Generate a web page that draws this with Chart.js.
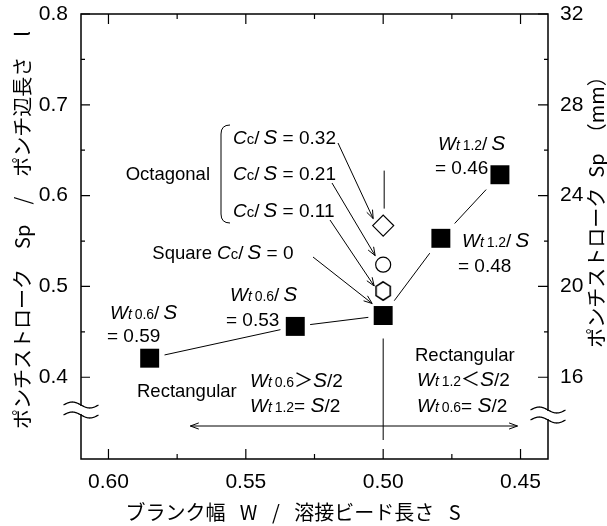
<!DOCTYPE html>
<html>
<head>
<meta charset="utf-8">
<script src="https://cdn.jsdelivr.net/npm/chart.js@4/dist/chart.umd.min.js"></script>
<style>
  html, body { margin: 0; padding: 0; background: #fff; }
  #wrap { width: 607px; height: 526px; }
</style>
</head>
<body>
<div id="wrap"><canvas id="c" width="607" height="526"></canvas></div>
<script>
// Blank width / weld bead length (W/S) and normalised punch stroke (Sp/l)
const blankRatio  = [0.585, 0.532, 0.500, 0.479, 0.4575];
const strokeRatio = [0.421, 0.456, 0.468, 0.553, 0.623];

// Octagonal blanks (all at W/S = 0.50): Cc/S = 0.32, 0.21, 0.11
const octagonRatio  = [0.50, 0.50, 0.50];
const octagonStroke = [0.567, 0.524, 0.495];

// Axis ranges and ticks
const xRange = [0.44, 0.61];
const yRange = [0.31, 0.80];
const punchSide = 40;              // mm, converts Sp/l to Sp
const xTickValues  = [0.60, 0.55, 0.50, 0.45];
const xTickLabels  = ['0.60', '0.55', '0.50', '0.45'];
const xMinorValues = [0.575, 0.525, 0.475];
const yTickValues  = [0.4, 0.5, 0.6, 0.7, 0.8];
const yTickLabels  = ['0.4', '0.5', '0.6', '0.7', '0.8'];
const yMinorValues = [0.45, 0.55, 0.65, 0.75];
const mmTickValues  = [16, 20, 24, 28, 32];
const mmTickLabels  = ['16', '20', '24', '28', '32'];
const mmMinorValues = [18, 22, 26, 30];

const LAT = '"Liberation Sans", Arial, sans-serif';
const CJK = '"Noto Sans CJK JP", "Noto Sans", sans-serif';

const mainPts = blankRatio.map((x, i) => ({ x, y: strokeRatio[i] }));
const octPts = octagonRatio.map((x, i) => ({ x, y: octagonStroke[i] }));

// open hexagon marker
const hex = document.createElement('canvas');
hex.width = 20; hex.height = 22;
(function () {
  const g = hex.getContext('2d');
  g.beginPath();
  for (let k = 0; k < 6; k++) {
    const a = -Math.PI / 2 + k * Math.PI / 3;
    const px = 10 + 8.2 * Math.cos(a), py = 11 + 9.2 * Math.sin(a);
    k ? g.lineTo(px, py) : g.moveTo(px, py);
  }
  g.closePath();
  g.fillStyle = '#fff'; g.fill();
  g.lineWidth = 1.6; g.strokeStyle = '#000'; g.stroke();
})();

// text made of runs: [text, size, italic, family]
function rich(ctx, x, yMid, parts, align) {
  let w = 0;
  for (const p of parts) {
    ctx.font = (p[2] ? 'italic ' : '') + p[1] + 'px ' + (p[3] || LAT);
    w += ctx.measureText(p[0]).width;
  }
  let cx = align === 'right' ? x - w : x;
  const base = yMid + 7;
  ctx.textBaseline = 'alphabetic';
  ctx.textAlign = 'left';
  for (const p of parts) {
    ctx.font = (p[2] ? 'italic ' : '') + p[1] + 'px ' + (p[3] || LAT);
    ctx.fillText(p[0], cx, base);
    cx += ctx.measureText(p[0]).width;
  }
}
const Wt = n => [['W', 19, 1], ['t', 14, 1], ['\u2009' + n, 14, 0]];
const Cc = [['C', 19, 1], ['c', 15, 0]];
const overS = [['/', 19, 0], ['\u2009', 19, 0], ['S', 21, 1]];
const S2 = [['S', 21, 1], ['/', 19, 0], ['2', 19, 0]];

function arrow(ctx, x1, y1, x2, y2, len, ang) {
  len = len || 9; ang = ang || 0.36;
  ctx.beginPath(); ctx.moveTo(x1, y1); ctx.lineTo(x2, y2); ctx.stroke();
  const a = Math.atan2(y2 - y1, x2 - x1);
  ctx.beginPath();
  ctx.moveTo(x2 - len * Math.cos(a - ang), y2 - len * Math.sin(a - ang));
  ctx.lineTo(x2, y2);
  ctx.lineTo(x2 - len * Math.cos(a + ang), y2 - len * Math.sin(a + ang));
  ctx.stroke();
}

function wave(ctx, xc, yc) {
  ctx.beginPath();
  for (let i = 0; i <= 40; i++) {
    const t = i / 40;
    const px = xc - 17.5 + 35 * t, py = yc - 3 * Math.sin(2 * Math.PI * t);
    i ? ctx.lineTo(px, py) : ctx.moveTo(px, py);
  }
  ctx.stroke();
}

const decor = {
  id: 'decor',
  afterDraw(chart) {
    const ctx = chart.ctx;
    const { left, right, top, bottom } = chart.chartArea;
    const xs = chart.scales.x, ys = chart.scales.y, ms = chart.scales.y2;
    ctx.save();
    ctx.strokeStyle = '#000';
    ctx.fillStyle = '#000';

    // frame
    ctx.lineWidth = 1.5;
    ctx.beginPath();
    ctx.moveTo(left, top); ctx.lineTo(right, top);
    ctx.lineTo(right, bottom); ctx.lineTo(left, bottom); ctx.closePath();
    ctx.stroke();

    // inward ticks
    ctx.lineWidth = 1.2;
    ctx.beginPath();
    const hTick = (v, len) => {
      const px = xs.getPixelForValue(v);
      ctx.moveTo(px, bottom); ctx.lineTo(px, bottom - len);
      ctx.moveTo(px, top); ctx.lineTo(px, top + len);
    };
    xTickValues.forEach(v => hTick(v, 10));
    xMinorValues.forEach(v => hTick(v, 5));
    const lTick = (v, len) => {
      const py = ys.getPixelForValue(v);
      ctx.moveTo(left, py); ctx.lineTo(left + len, py);
    };
    yTickValues.forEach(v => lTick(v, 9));
    yMinorValues.forEach(v => lTick(v, 4));
    const rTick = (v, len) => {
      const py = ms.getPixelForValue(v);
      ctx.moveTo(right, py); ctx.lineTo(right - len, py);
    };
    mmTickValues.forEach(v => rTick(v, 10));
    mmMinorValues.forEach(v => rTick(v, 4));
    ctx.stroke();

    // axis breaks
    const brk = (xc, y1, y2) => {
      ctx.fillStyle = '#fff';
      ctx.fillRect(xc - 3, y1 + 1, 6, y2 - y1 - 2);
      ctx.fillStyle = '#000';
      ctx.lineWidth = 1.3;
      wave(ctx, xc, y1); wave(ctx, xc, y2);
    };
    brk(left, bottom - 54, bottom - 44);
    brk(right, bottom - 49, bottom - 39);

    // guide lines at W/S = 0.50
    ctx.lineWidth = 1;
    const x50 = xs.getPixelForValue(0.50);
    const yDia = ys.getPixelForValue(octagonStroke[0]);
    const ySq = ys.getPixelForValue(strokeRatio[2]);
    ctx.beginPath();
    ctx.moveTo(x50 + 1, yDia - 55); ctx.lineTo(x50 + 1, yDia - 17);
    ctx.moveTo(x50, ySq + 23); ctx.lineTo(x50, bottom - 19);
    ctx.stroke();

    // double arrow
    const yA = bottom - 33;
    arrow(ctx, x50, yA, xs.getPixelForValue(0.5702), yA, 9, 0.35);
    arrow(ctx, x50, yA, xs.getPixelForValue(0.4511), yA, 9, 0.35);

    // Cc/S arrows to the markers
    const xo = xs.getPixelForValue(octagonRatio[0]);
    const yo = octagonStroke.map(v => ys.getPixelForValue(v));
    arrow(ctx, 338, 143, xo - 10, yo[0] - 7);
    arrow(ctx, 332, 183, xo - 8, yo[1] - 9);
    arrow(ctx, 330, 220, xo - 9, yo[2] - 5);
    arrow(ctx, 313, 257, x50 - 11, ySq - 12);

    // brace
    ctx.lineWidth = 1;
    ctx.beginPath();
    ctx.moveTo(230, 125);
    ctx.quadraticCurveTo(221, 125, 221, 134);
    ctx.lineTo(221, 214);
    ctx.quadraticCurveTo(221, 223, 230, 223);
    ctx.stroke();

    // labels
    ctx.fillStyle = '#000';
    rich(ctx, 210, 173, [['Octagonal', 18.5, 0]], 'right');
    rich(ctx, 233, 137, [...Cc, ...overS, [' = 0.32', 19, 0]]);
    rich(ctx, 233, 173, [...Cc, ...overS, [' = 0.21', 19, 0]]);
    rich(ctx, 233, 210, [...Cc, ...overS, [' = 0.11', 19, 0]]);
    rich(ctx, 212, 252, [['Square', 18.5, 0]], 'right');
    rich(ctx, 217, 252, [...Cc, ...overS, [' = 0', 19, 0]]);

    rich(ctx, 110, 312, [...Wt('0.6'), ...overS]);
    rich(ctx, 107, 335, [['= 0.59', 19, 0]]);
    rich(ctx, 230, 294, [...Wt('0.6'), ...overS]);
    rich(ctx, 226, 319, [['= 0.53', 19, 0]]);
    rich(ctx, 438, 143, [...Wt('1.2'), ...overS]);
    rich(ctx, 435, 167, [['= 0.46', 19, 0]]);
    rich(ctx, 462, 240, [...Wt('1.2'), ...overS]);
    rich(ctx, 458, 265, [['= 0.48', 19, 0]]);

    rich(ctx, 137, 390, [['Rectangular', 18.5, 0]]);
    rich(ctx, 250, 380, [...Wt('0.6'), ['\uFF1E', 19, 0, CJK], ...S2]);
    rich(ctx, 250, 405, [...Wt('1.2'), ['= ', 19, 0], ...S2]);
    rich(ctx, 415, 354, [['Rectangular', 18.5, 0]]);
    rich(ctx, 417, 379, [...Wt('1.2'), ['\uFF1C', 19, 0, CJK], ...S2]);
    rich(ctx, 417, 405, [...Wt('0.6'), ['= ', 19, 0], ...S2]);

    // axis titles
    ctx.font = '20px ' + CJK;
    ctx.textAlign = 'center';
    ctx.textBaseline = 'middle';
    ctx.fillText('ブランク幅\u2002 W\u2002 /\u2002 溶接ビード長さ\u2002 S', 293, 512);
    ctx.save();
    ctx.translate(22, 230);
    ctx.rotate(-Math.PI / 2);
    ctx.fillText('ポンチストローク\u3000Sp\u3000/\u3000ポンチ辺長さ\u3000l', 0, 0);
    ctx.restore();
    ctx.save();
    ctx.translate(596, 207);
    ctx.rotate(-Math.PI / 2);
    ctx.fillText('ポンチストローク\u2002Sp\u2002\uFF08mm\uFF09', 0, 0);
    ctx.restore();

    ctx.restore();
  }
};

const tickFont = { family: LAT, size: 21 };
const noGrid = { display: false, drawTicks: false, tickLength: 0 };

new Chart(document.getElementById('c'), {
  type: 'scatter',
  data: {
    datasets: [
      { data: mainPts, showLine: true, borderColor: '#000', borderWidth: 1, pointRadius: 0, order: 5 },
      { data: mainPts, pointStyle: 'rect', pointRadius: 21, pointBackgroundColor: '#fff', pointBorderWidth: 0, pointBorderColor: '#fff', order: 4 },
      { data: mainPts, pointStyle: 'rect', pointRadius: 13.4, pointBackgroundColor: '#000', pointBorderWidth: 0, pointBorderColor: '#000', order: 3 },
      { data: [octPts[0]], pointStyle: 'rectRot', pointRadius: 10.5, pointBackgroundColor: '#fff', pointBorderColor: '#000', pointBorderWidth: 1.2, order: 2 },
      { data: [octPts[1]], pointStyle: 'circle', pointRadius: 7.5, pointBackgroundColor: '#fff', pointBorderColor: '#000', pointBorderWidth: 1.2, order: 2 },
      { data: [octPts[2]], pointStyle: hex, pointRadius: 10, order: 2 }
    ]
  },
  options: {
    responsive: false,
    animation: false,
    events: [],
    layout: { autoPadding: false, padding: { top: 14, left: 0, right: 0, bottom: 0 } },
    plugins: { legend: { display: false }, tooltip: { enabled: false } },
    scales: {
      x: {
        type: 'linear', position: 'bottom', reverse: true,
        min: xRange[0], max: xRange[1],
        grid: noGrid, border: { display: false },
        afterBuildTicks: s => { s.ticks = xTickValues.map(v => ({ value: v })); },
        ticks: { font: tickFont, color: '#000', padding: 11, maxRotation: 0, autoSkip: false,
                 callback: (v, i) => xTickLabels[i] },
        afterFit: s => { s.height = 67; s.paddingLeft = 0; s.paddingRight = 0; }
      },
      y: {
        type: 'linear', position: 'left',
        min: yRange[0], max: yRange[1],
        grid: noGrid, border: { display: false },
        afterBuildTicks: s => { s.ticks = yTickValues.map(v => ({ value: v })); },
        ticks: { font: tickFont, color: '#000', padding: 13, autoSkip: false,
                 callback: (v, i) => yTickLabels[i] },
        afterFit: s => { s.width = 81; s.paddingTop = 0; s.paddingBottom = 0; }
      },
      y2: {
        type: 'linear', position: 'right',
        min: yRange[0] * punchSide, max: yRange[1] * punchSide,
        grid: noGrid, border: { display: false },
        afterBuildTicks: s => { s.ticks = mmTickValues.map(v => ({ value: v })); },
        ticks: { font: tickFont, color: '#000', padding: 12, autoSkip: false,
                 callback: (v, i) => mmTickLabels[i] },
        afterFit: s => { s.width = 59; s.paddingTop = 0; s.paddingBottom = 0; }
      }
    }
  },
  plugins: [decor]
});
</script>
</body>
</html>
